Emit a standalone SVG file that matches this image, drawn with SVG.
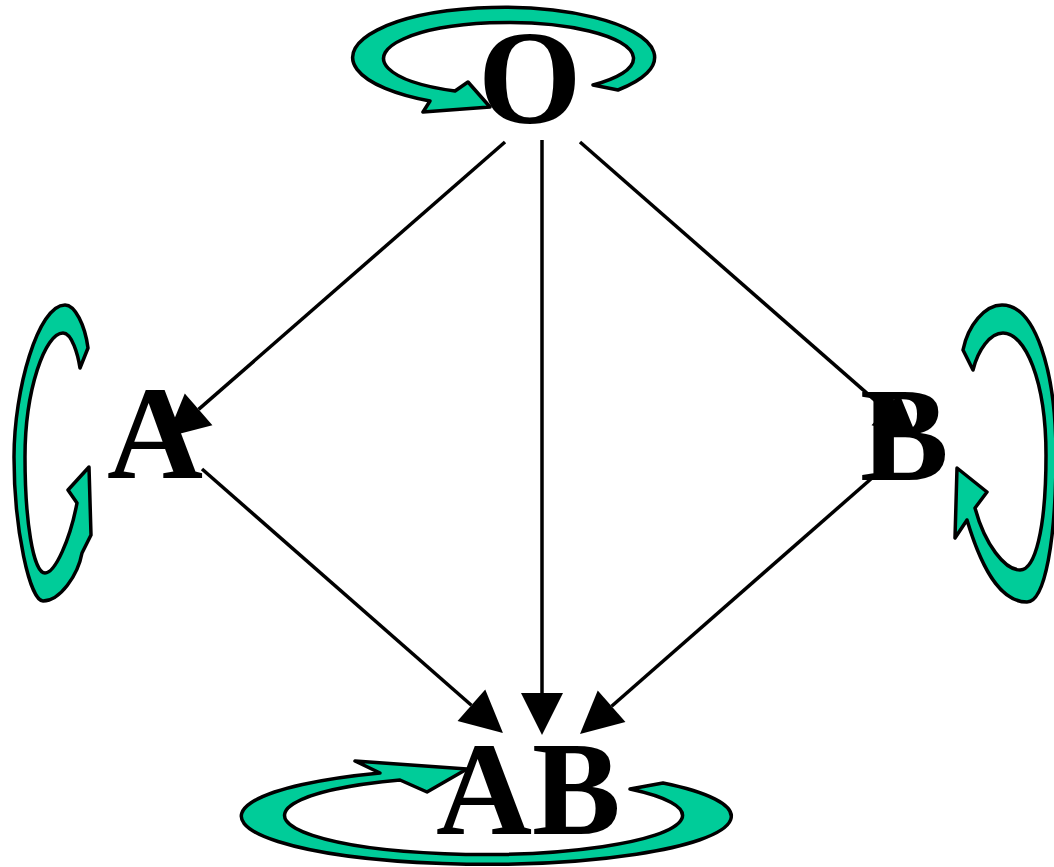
<svg xmlns="http://www.w3.org/2000/svg" width="1054" height="867" viewBox="0 0 1054 867">
<style>
.loop{fill:#00CC99;stroke:#000;stroke-width:3.5;stroke-linejoin:round}
.edge{stroke:#000;stroke-width:3.5;fill:none;marker-end:url(#ah)}
.lbl{font-family:"Liberation Serif","Times New Roman",serif;font-weight:bold;font-size:133px;fill:#000}
</style>
<defs>
<marker id="ah" markerUnits="userSpaceOnUse" markerWidth="44" markerHeight="44" refX="0" refY="21" orient="auto" overflow="visible">
<path d="M0,0 L42,21 L0,42 Z" fill="#000"/>
</marker>
</defs>
<g id="loops">
<path id="loop-O" class="loop" d="M618,90 A151,50 0 1 0 430,101 L423,112 L490,107 L468,82 L455,91 A125,36 0 1 1 593,85 Z"/>
<path id="loop-A" class="loop" d="M80,368 L88,348 C85,325 75,305 65,305 C38,305 14,390 14,457 C14,530 30,601 43,601 C60,601 78,575 82,553 L91,535 L89,467 L68,490 L77,503 C70,540 55,573 45,573 C33,573 25,520 25,457 C25,390 45,333 63,333 C72,333 78,355 80,368 Z"/>
<path id="loop-B" class="loop" d="M963,350 C968,325 985,305 1002,305 C1035,305 1056,370 1056,455 C1056,540 1045,602 1027,602 C1005,602 985,580 967,520 L955,538 L957,468 L987,492 L975,508 C985,545 1005,570 1020,570 C1035,570 1046,530 1046,455 C1046,380 1025,333 1003,333 C990,333 978,350 973,370 Z"/>
<path id="loop-AB" class="loop" d="M663,783 A245,48 0 1 1 380,773 L355,761 L467,769 L427,792 L400,780 A199,39 0 1 0 630,789 Z"/>
</g>
<g id="connectors">
<line class="edge" x1="505" y1="142" x2="198.6" y2="409.4"/>
<line class="edge" x1="542" y1="140" x2="542" y2="693"/>
<line class="edge" x1="580" y1="142" x2="885.4" y2="409.4"/>
<line class="edge" x1="202" y1="469" x2="471.4" y2="705.3"/>
<line class="edge" x1="880" y1="471" x2="611.6" y2="706.3"/>
</g>
<g id="node-O"><text class="lbl" x="478" y="123">O</text></g>
<g id="node-A"><text class="lbl" x="107" y="478">A</text></g>
<g id="node-B"><text class="lbl" x="860" y="480">B</text></g>
<g id="node-AB"><text class="lbl" x="436" y="834">AB</text></g>
</svg>
